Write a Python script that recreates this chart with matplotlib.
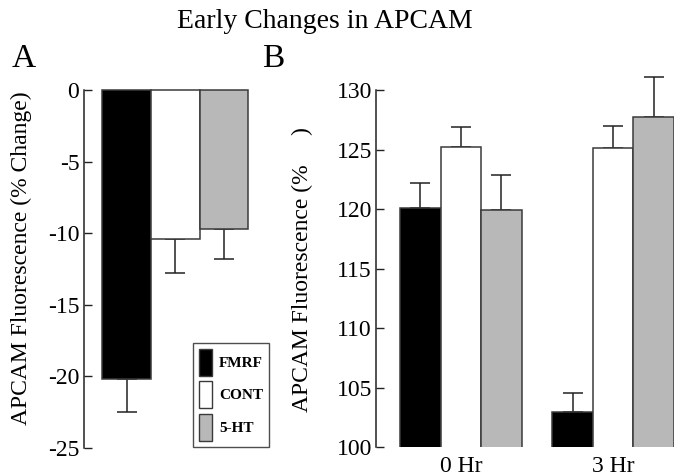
import matplotlib
matplotlib.use("Agg")
import matplotlib.pyplot as plt
from matplotlib.patches import Patch
import numpy as np

plt.rcParams['font.family'] = ['Liberation Serif', 'DejaVu Serif']

# ---- data ----
treatments = ["FMRF", "CONT", "5-HT"]
colors = ["#000000", "#ffffff", "#b8b8b8"]

a_values = [-20.2, -10.4, -9.7]
a_errors = [2.3, 2.4, 2.1]

b_groups = ["0 Hr", "3 Hr"]
b_values = {"FMRF": [120.1, 103.0], "CONT": [125.2, 125.1], "5-HT": [119.9, 127.7]}
b_errors = {"FMRF": [2.1, 1.6], "CONT": [1.7, 1.9], "5-HT": [3.0, 3.4]}

a_yticks = [0, -5, -10, -15, -20, -25]
b_yticks = [100, 105, 110, 115, 120, 125, 130]

W, H = 674, 476
fig = plt.figure(figsize=(W / 100, H / 100), dpi=100)

def box(l, t, r, b):
    return [l / W, 1 - b / H, (r - l) / W, (b - t) / H]

edge = "#3a3a3a"
tick_fs = 17

def style(ax):
    for s in ["top", "right", "bottom"]:
        ax.spines[s].set_visible(False)
    ax.spines["left"].set_color("#222222")
    ax.spines["left"].set_linewidth(1.1)
    ax.tick_params(axis="y", direction="in", length=6, width=1.0, labelsize=tick_fs, pad=3, color="#222222")
    ax.tick_params(axis="x", length=0, labelsize=17, pad=6)

# ---- Panel A ----
axA = fig.add_axes(box(83.5, 90, 270, 447.7))
xa = np.arange(len(treatments))
axA.bar(xa, a_values, width=1.0, color=colors, edgecolor=edge, linewidth=1.1, clip_on=False, zorder=2)
axA.errorbar(xa, a_values, yerr=[a_errors, [0] * 3], fmt="none", ecolor="#222222",
             elinewidth=1.1, capsize=7.5, capthick=1.1, clip_on=False, zorder=1)
axA.set_ylim(-25, 0)
axA.set_xlim(-0.89, 2.95)
axA.set_yticks(a_yticks)
axA.set_yticklabels([str(t) for t in a_yticks])
axA.set_xticks([])
style(axA)

handles = [Patch(facecolor=c, edgecolor=edge, linewidth=1.0) for c in colors]
leg = axA.legend(handles, treatments, loc="lower right", bbox_to_anchor=(269 / W, 1 - 447 / H),
                 bbox_transform=fig.transFigure, borderaxespad=0, frameon=True, fancybox=False,
                 handlelength=0.85, handleheight=2.36, handletextpad=0.45, labelspacing=0.35,
                 borderpad=0.4, prop={"weight": "bold", "size": 11})
leg.get_frame().set_edgecolor("#222222")
leg.get_frame().set_linewidth(1.0)

# ---- Panel B ----
axB = fig.add_axes(box(376, 90, 674, 447.3))
group_pos = np.array([0.0, 3.75])
for i, t in enumerate(treatments):
    xs = group_pos + (i - 1)
    axB.bar(xs, b_values[t], width=1.0, bottom=0, color=colors[i], edgecolor=edge,
            linewidth=1.1, zorder=2)
    axB.errorbar(xs, b_values[t], yerr=[[0, 0], b_errors[t]], fmt="none", ecolor="#222222",
                 elinewidth=1.1, capsize=7.5, capthick=1.1, clip_on=False, zorder=1)
axB.set_ylim(100, 130)
axB.set_xlim(-2.09, 5.25)
axB.set_yticks(b_yticks)
axB.set_xticks(group_pos)
axB.set_xticklabels(b_groups)
style(axB)

# ---- texts ----
fig.text(325 / W, 1 - 22 / H, "Early Changes in APCAM", ha="center", va="center", fontsize=20)
fig.text(12 / W, 1 - 59 / H, "A", ha="left", va="center", fontsize=24)
fig.text(262 / W, 1 - 59 / H, "B", ha="left", va="center", fontsize=24)
fig.text(21 / W, 1 - 258 / H, "APCAM Fluorescence (% Change)", rotation=90, ha="center", va="center", fontsize=17)
fig.text(302 / W, 1 - 270 / H, "APCAM Fluorescence (%     )", rotation=90, ha="center", va="center", fontsize=17)

fig.savefig("out.png", dpi=100)
